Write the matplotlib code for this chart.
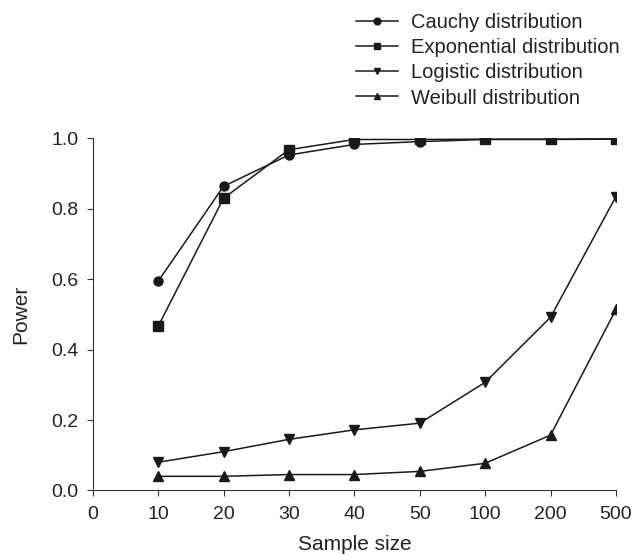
import matplotlib.pyplot as plt

plt.rcParams['font.family'] = ['Liberation Sans', 'DejaVu Sans']

# sample sizes shown as evenly spaced categories
sample_sizes = ['0', '10', '20', '30', '40', '50', '100', '200', '500']
positions = list(range(1, 9))

cauchy = [0.594, 0.864, 0.953, 0.983, 0.991, 0.997, 0.997, 0.998]
exponential = [0.466, 0.830, 0.968, 0.997, 0.997, 0.998, 0.998, 0.999]
logistic = [0.080, 0.110, 0.145, 0.172, 0.191, 0.307, 0.492, 0.835]
weibull = [0.040, 0.040, 0.045, 0.045, 0.054, 0.077, 0.157, 0.514]

series = [
    ('Cauchy distribution', cauchy, 'o'),
    ('Exponential distribution', exponential, 's'),
    ('Logistic distribution', logistic, 'v'),
    ('Weibull distribution', weibull, '^'),
]

fig = plt.figure(figsize=(6.35, 5.56), dpi=100)
ax = fig.add_axes([0.146, 0.118, 0.824, 0.633])

for name, vals, m in series:
    ax.plot(positions, vals, color='#1a1a1a', linewidth=1.1,
            marker=m, markersize=6.5, label=name)

ax.set_xlim(0, 8)
ax.set_ylim(0, 1.0)
ax.set_xticks(range(9))
ax.set_xticklabels(sample_sizes)
ax.set_yticks([0.0, 0.2, 0.4, 0.6, 0.8, 1.0])
ax.set_yticklabels(['0.0', '0.2', '0.4', '0.6', '0.8', '1.0'])
ax.tick_params(labelsize=14, direction='out', length=4, color='#333333',
               labelcolor='#222222')
ax.tick_params(axis='x', pad=7)
ax.tick_params(axis='y', pad=6)

for s in ['top', 'right']:
    ax.spines[s].set_visible(False)
for s in ['left', 'bottom']:
    ax.spines[s].set_color('#333333')

ax.set_xlabel('Sample size', fontsize=15, color='#222222', labelpad=9)
ax.set_ylabel('Power', fontsize=15, color='#222222', labelpad=15)

fig.legend(loc='upper left', bbox_to_anchor=(0.545, 0.994), frameon=False,
           fontsize=14.5, handlelength=2.1, handletextpad=0.6,
           labelspacing=0.3, borderpad=0, markerscale=0.75,
           labelcolor='#222222')

fig.savefig('out.png', dpi=100)
